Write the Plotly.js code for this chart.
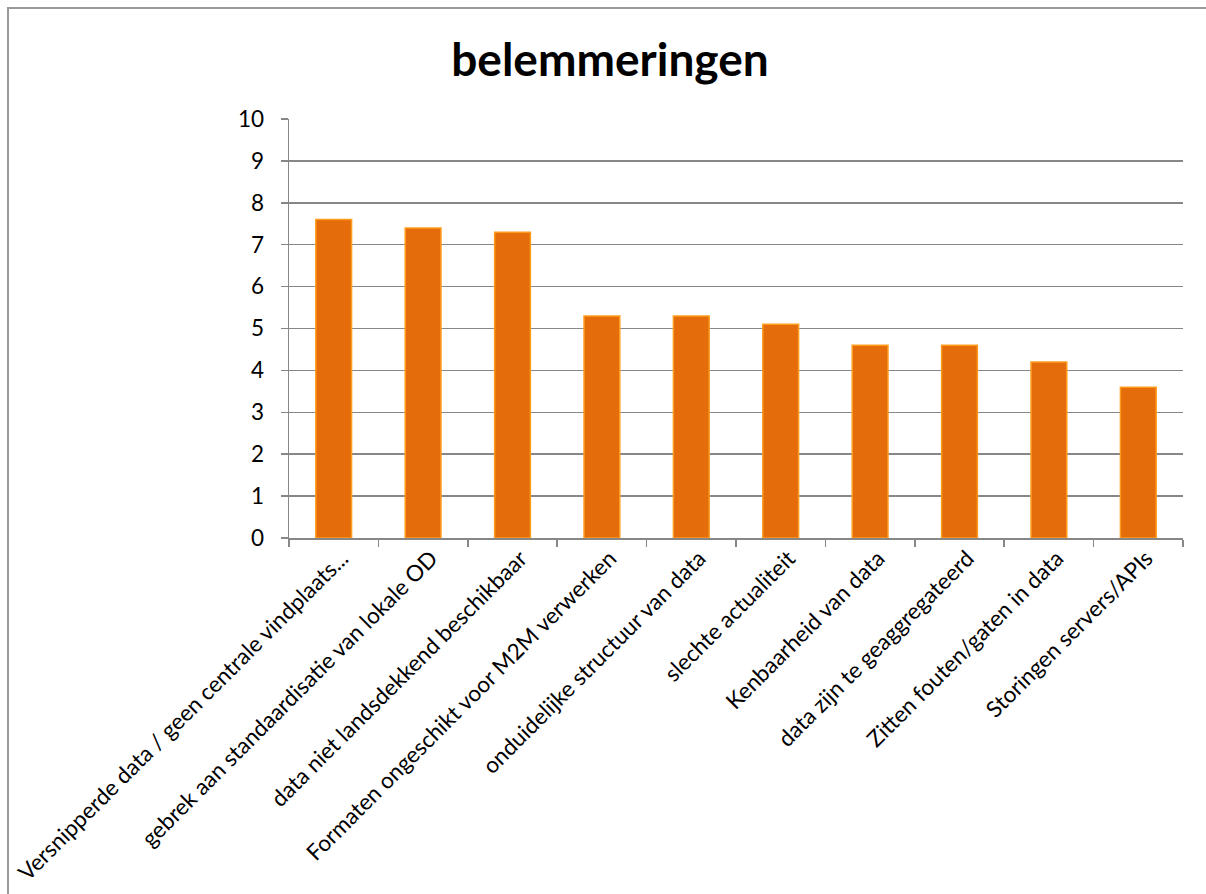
<!DOCTYPE html>
<html>
<head>
<meta charset="utf-8">
<script src="https://cdn.plot.ly/plotly-3.0.1.min.js"></script>
<style>
html,body{margin:0;padding:0;background:#fff;overflow:hidden;}
#frame{position:absolute;left:7px;top:7px;width:1210px;height:900px;border-left:2px solid #9a9a9a;border-top:2px solid #9a9a9a;pointer-events:none;z-index:5;}
#chart{width:1206px;height:894px;}
</style>
</head>
<body>
<div id="frame"></div>
<div id="chart"></div>
<script>
const categories = [
  "Versnipperde data / geen centrale vindplaats...",
  "gebrek aan standaardisatie van lokale OD",
  "data niet landsdekkend beschikbaar",
  "Formaten ongeschikt voor M2M verwerken",
  "onduidelijke structuur van data",
  "slechte actualiteit",
  "Kenbaarheid van data",
  "data zijn te geaggregateerd",
  "Zitten fouten/gaten in data",
  "Storingen servers/APIs"
];
const values = [7.6, 7.4, 7.3, 5.3, 5.3, 5.1, 4.6, 4.6, 4.2, 3.6];
const yTicks = [0,1,2,3,4,5,6,7,8,9,10];
const titleText = "belemmeringen";

const font = "Lato, Carlito, Calibri, 'Open Sans', sans-serif";
const grid = "#878787";

Plotly.newPlot("chart", [{
  type: "bar",
  x: categories,
  y: values,
  marker: {color: "#E46C0A", line: {color: "#FF9C1E", width: 1.5}},
  hoverinfo: "x+y"
}], {
  width: 1206, height: 894,
  margin: {l: 289, r: 23, t: 119, b: 356},
  paper_bgcolor: "#fff", plot_bgcolor: "#fff",
  bargap: 0.6,
  showlegend: false,
  font: {family: font, color: "#000", size: 22},
  title: {text: "<b>" + titleText + "</b>", font: {family: font, size: 46, color: "#000"},
          xref: "container", x: 610/1206, xanchor: "center", yref: "container", y: 1 - 60/894, yanchor: "middle"},
  xaxis: {
    type: "category",
    tickangle: -45,
    ticks: "outside", ticklen: 7, tickwidth: 1.5, tickcolor: grid,
    tickson: "boundaries",
    showline: true, linecolor: grid, linewidth: 1.5,
    showgrid: false, zeroline: false,
    ticklabelshift: 8,
    ticklabelstandoff: -3,
    tickfont: {family: font, size: 22.5, color: "#000"},
    automargin: false
  },
  yaxis: {
    range: [0, 10],
    tickvals: yTicks,
    ticktext: yTicks.map(String),
    ticks: "outside", ticklen: 7, tickwidth: 1.5, tickcolor: grid,
    showline: true, linecolor: grid, linewidth: 1.5,
    showgrid: true, gridcolor: grid, gridwidth: 1.5,
    zeroline: false,
    ticklabelstandoff: 12,
    tickfont: {family: font, size: 22.5, color: "#000"},
    automargin: false
  }
}, {displayModeBar: false, staticPlot: true});
</script>
</body>
</html>
